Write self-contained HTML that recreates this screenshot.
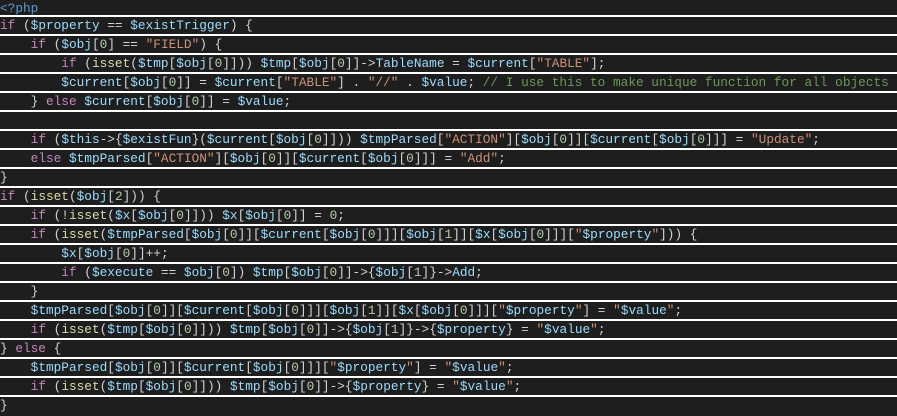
<!DOCTYPE html>
<html><head><meta charset="utf-8"><style>
html,body{margin:0;padding:0;background:#1e1e1e;}
body{width:897px;height:416px;position:relative;overflow:hidden;font-family:"Liberation Mono",monospace;font-size:12.77px;color:#d4d4d4;}
.l{position:absolute;left:0;width:897px;height:17px;line-height:18px;white-space:pre;border-top:2px solid #fff;}
.k{color:#c586c0}.v{color:#9cdcfe}.s{color:#ce9178}.n{color:#b5cea8}.f{color:#dcdcaa}.c{color:#6a9955}.t{color:#569cd6}
</style></head><body>
<div class="l" style="top:-2px;border-top:none;top:0"><span class="t">&lt;?php</span></div>
<div class="l" style="top:15px"><span class="k">if</span> (<span class="v">$property</span> == <span class="v">$existTrigger</span>) {</div>
<div class="l" style="top:34px">    <span class="k">if</span> (<span class="v">$obj</span>[<span class="n">0</span>] == <span class="s">"FIELD"</span>) {</div>
<div class="l" style="top:53px">        <span class="k">if</span> (<span class="f">isset</span>(<span class="v">$tmp</span>[<span class="v">$obj</span>[<span class="n">0</span>]])) <span class="v">$tmp</span>[<span class="v">$obj</span>[<span class="n">0</span>]]-&gt;<span class="v">TableName</span> = <span class="v">$current</span>[<span class="s">"TABLE"</span>];</div>
<div class="l" style="top:72px">        <span class="v">$current</span>[<span class="v">$obj</span>[<span class="n">0</span>]] = <span class="v">$current</span>[<span class="s">"TABLE"</span>] . <span class="s">"//"</span> . <span class="v">$value</span>; <span class="c">// I use this to make unique function for all objects</span></div>
<div class="l" style="top:91px">    } <span class="k">else</span> <span class="v">$current</span>[<span class="v">$obj</span>[<span class="n">0</span>]] = <span class="v">$value</span>;</div>
<div class="l" style="top:110px"> </div>
<div class="l" style="top:129px">    <span class="k">if</span> (<span class="v">$this</span>-&gt;{<span class="v">$existFun</span>}(<span class="v">$current</span>[<span class="v">$obj</span>[<span class="n">0</span>]])) <span class="v">$tmpParsed</span>[<span class="s">"ACTION"</span>][<span class="v">$obj</span>[<span class="n">0</span>]][<span class="v">$current</span>[<span class="v">$obj</span>[<span class="n">0</span>]]] = <span class="s">"Update"</span>;</div>
<div class="l" style="top:148px">    <span class="k">else</span> <span class="v">$tmpParsed</span>[<span class="s">"ACTION"</span>][<span class="v">$obj</span>[<span class="n">0</span>]][<span class="v">$current</span>[<span class="v">$obj</span>[<span class="n">0</span>]]] = <span class="s">"Add"</span>;</div>
<div class="l" style="top:167px">}</div>
<div class="l" style="top:186px"><span class="k">if</span> (<span class="f">isset</span>(<span class="v">$obj</span>[<span class="n">2</span>])) {</div>
<div class="l" style="top:205px">    <span class="k">if</span> (!<span class="f">isset</span>(<span class="v">$x</span>[<span class="v">$obj</span>[<span class="n">0</span>]])) <span class="v">$x</span>[<span class="v">$obj</span>[<span class="n">0</span>]] = <span class="n">0</span>;</div>
<div class="l" style="top:224px">    <span class="k">if</span> (<span class="f">isset</span>(<span class="v">$tmpParsed</span>[<span class="v">$obj</span>[<span class="n">0</span>]][<span class="v">$current</span>[<span class="v">$obj</span>[<span class="n">0</span>]]][<span class="v">$obj</span>[<span class="n">1</span>]][<span class="v">$x</span>[<span class="v">$obj</span>[<span class="n">0</span>]]][<span class="s">"<span class="v">$property</span>"</span>])) {</div>
<div class="l" style="top:243px">        <span class="v">$x</span>[<span class="v">$obj</span>[<span class="n">0</span>]]++;</div>
<div class="l" style="top:262px">        <span class="k">if</span> (<span class="v">$execute</span> == <span class="v">$obj</span>[<span class="n">0</span>]) <span class="v">$tmp</span>[<span class="v">$obj</span>[<span class="n">0</span>]]-&gt;{<span class="v">$obj</span>[<span class="n">1</span>]}-&gt;<span class="v">Add</span>;</div>
<div class="l" style="top:281px">    }</div>
<div class="l" style="top:300px">    <span class="v">$tmpParsed</span>[<span class="v">$obj</span>[<span class="n">0</span>]][<span class="v">$current</span>[<span class="v">$obj</span>[<span class="n">0</span>]]][<span class="v">$obj</span>[<span class="n">1</span>]][<span class="v">$x</span>[<span class="v">$obj</span>[<span class="n">0</span>]]][<span class="s">"<span class="v">$property</span>"</span>] = <span class="s">"<span class="v">$value</span>"</span>;</div>
<div class="l" style="top:319px">    <span class="k">if</span> (<span class="f">isset</span>(<span class="v">$tmp</span>[<span class="v">$obj</span>[<span class="n">0</span>]])) <span class="v">$tmp</span>[<span class="v">$obj</span>[<span class="n">0</span>]]-&gt;{<span class="v">$obj</span>[<span class="n">1</span>]}-&gt;{<span class="v">$property</span>} = <span class="s">"<span class="v">$value</span>"</span>;</div>
<div class="l" style="top:338px">} <span class="k">else</span> {</div>
<div class="l" style="top:357px">    <span class="v">$tmpParsed</span>[<span class="v">$obj</span>[<span class="n">0</span>]][<span class="v">$current</span>[<span class="v">$obj</span>[<span class="n">0</span>]]][<span class="s">"<span class="v">$property</span>"</span>] = <span class="s">"<span class="v">$value</span>"</span>;</div>
<div class="l" style="top:376px">    <span class="k">if</span> (<span class="f">isset</span>(<span class="v">$tmp</span>[<span class="v">$obj</span>[<span class="n">0</span>]])) <span class="v">$tmp</span>[<span class="v">$obj</span>[<span class="n">0</span>]]-&gt;{<span class="v">$property</span>} = <span class="s">"<span class="v">$value</span>"</span>;</div>
<div class="l" style="top:395px">}</div>
</body></html>
